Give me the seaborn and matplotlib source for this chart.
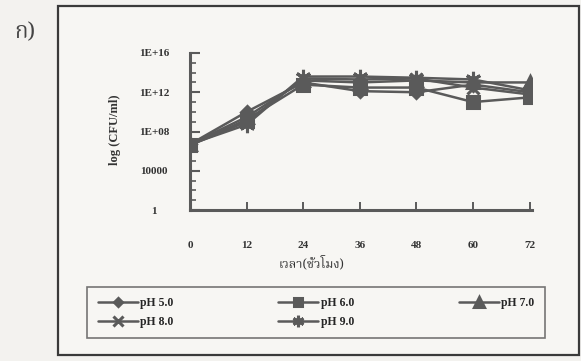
import matplotlib
matplotlib.use("Agg")
import matplotlib.pyplot as plt
import matplotlib.ticker as mticker
from matplotlib import font_manager
import numpy as np
import pandas as pd
import seaborn as sns

hours = [0, 12, 24, 36, 48, 60, 72]
ph50 = [5.0e6, 1.0e10, 1.0e13, 1.3e12, 1.0e12, 6.0e12, 1.0e12]
ph60 = [4.0e6, 1.6e9, 6.0e12, 3.0e12, 3.0e12, 1.0e11, 3.0e11]
ph70 = [5.0e6, 3.0e9, 1.6e13, 1.0e13, 1.6e13, 1.0e13, 1.0e13]
ph80 = [4.0e6, 1.0e9, 2.5e13, 2.0e13, 2.5e13, 3.0e12, 6.0e11]
ph90 = [5.0e6, 5.0e8, 4.0e13, 4.0e13, 3.0e13, 2.0e13, 1.6e12]
series_names = ["pH 5.0", "pH 6.0", "pH 7.0", "pH 8.0", "pH 9.0"]
y_ticks = [1, 1e4, 1e8, 1e12, 1e16]
y_ticklabels = ["1", "10000", "1E+08", "1E+12", "1E+16"]
x_label = "เวลา(ชั่วโมง)"
y_label = "log (CFU/ml)"
panel_label = "ก)"

rows = []
for name, vals in zip(series_names, [ph50, ph60, ph70, ph80, ph90]):
    for h, v in zip(hours, vals):
        rows.append({"hour": h, "cfu": v, "series": name})
df = pd.DataFrame(rows)

sns.set_theme(style="white")
names = {f.name for f in font_manager.fontManager.ttflist}
thai_fams = [n for n in names if "Thai" in n]
serif = ["Liberation Serif", "DejaVu Serif"]
thai = thai_fams + ["Noto Sans", "DejaVu Sans"]

fig = plt.figure(figsize=(5.81, 3.61), dpi=100)
fig.patch.set_facecolor("#f3f2ef")
# outer frame
frame = plt.Rectangle((58 / 581, 6 / 361), 521 / 581, 349 / 361, transform=fig.transFigure,
                      fill=True, facecolor="#f7f6f3", edgecolor="#3a3a3a", linewidth=1.6,
                      zorder=-5)
fig.patches.append(frame)

ax = fig.add_axes([190 / 581, 1 - 210 / 361, 342 / 581, 157 / 361])
ax.set_zorder(2)
ax.patch.set_alpha(0)
col = "#5a5a5a"
markers = {"pH 5.0": "D", "pH 6.0": "s", "pH 7.0": "^", "pH 8.0": "x", "pH 9.0": (6, 2, 0)}
sizes = {"pH 5.0": 6, "pH 6.0": 8, "pH 7.0": 9, "pH 8.0": 9, "pH 9.0": 11}
for name in series_names:
    sub = df[df.series == name]
    sns.lineplot(data=sub, x="hour", y="cfu", ax=ax, color=col, linewidth=1.8,
                 marker=markers[name], markersize=sizes[name], markeredgewidth=2.2,
                 markeredgecolor=col, markerfacecolor=col, label=name, legend=False)

ax.set_yscale("log")
ax.set_ylim(1, 1e16)
ax.set_xlim(0, 72.5)
ax.set_yticks(y_ticks)
ax.set_yticklabels(y_ticklabels, fontsize=8, fontweight="bold", family=serif, color="#333",
                   ha="center")
ax.yaxis.set_minor_locator(mticker.FixedLocator([10.0 ** k for k in range(17)]))
ax.yaxis.set_minor_formatter(mticker.NullFormatter())
ax.set_xticks(hours)
ax.set_xticklabels([str(h) for h in hours], fontsize=8, fontweight="bold", family=serif, color="#333")
ax.tick_params(axis="x", which="major", bottom=True, direction="in", length=6, width=1.4,
               color=col, pad=22)
ax.tick_params(axis="x", which="minor", bottom=False)
ax.tick_params(axis="y", which="major", left=True, direction="in", length=7, width=1.5,
               color=col, pad=26)
ax.tick_params(axis="y", which="minor", left=True, direction="in", length=4, width=1.2, color=col)
for s in ["top", "right"]:
    ax.spines[s].set_visible(False)
for s in ["left", "bottom"]:
    ax.spines[s].set_color(col)
    ax.spines[s].set_linewidth(2.2)
ax.set_xlabel("")
ax.set_ylabel("")
fig.text(115 / 581, 1 - 130 / 361, y_label, rotation=90, ha="center", va="center",
         fontsize=9, fontweight="bold", family=serif, color="#333")

fig.text(312 / 581, 1 - 263 / 361, x_label, ha="center", va="center", fontsize=9,
         family=thai, color="#333")
fig.text(25 / 581, 1 - 32 / 361, panel_label, ha="center", va="center", fontsize=16,
         family=thai, color="#444")

handles, labels = ax.get_legend_handles_labels()
order = [0, 3, 1, 4, 2]
leg = fig.legend([handles[i] for i in order], [labels[i] for i in order], ncol=3, loc="center",
                 bbox_to_anchor=(87 / 581, 1 - 342 / 361, 458 / 581, 59 / 361), mode="expand",
                 frameon=True, fancybox=False, edgecolor="#555", facecolor="#f7f6f3",
                 prop={"family": serif, "size": 8.5, "weight": "bold"},
                 handlelength=3.4, columnspacing=3, borderpad=0.9, labelspacing=0.55,
                 handletextpad=0.2, markerscale=0.75, borderaxespad=0)
leg.get_frame().set_linewidth(1.2)
leg._legend_box.align = "left"

fig.savefig("out.png", dpi=100, facecolor=fig.get_facecolor())
